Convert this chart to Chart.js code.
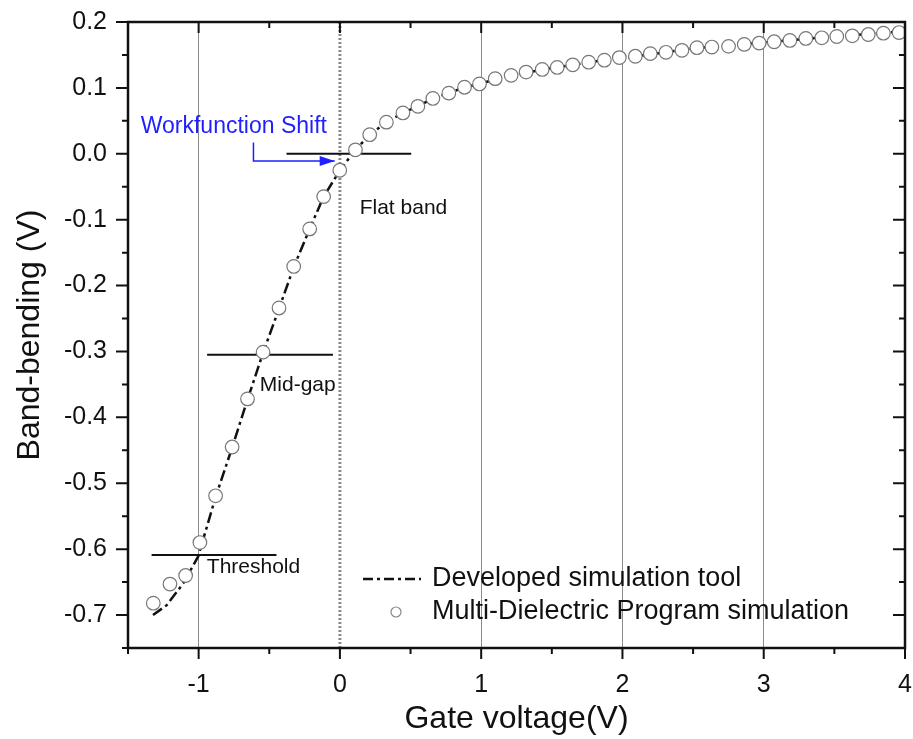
<!DOCTYPE html>
<html>
<head>
<meta charset="utf-8">
<script src="https://cdn.jsdelivr.net/npm/chart.js@4.4.1/dist/chart.umd.min.js"></script>
<style>
  html, body { margin: 0; padding: 0; background: #fff; }
  canvas { display: block; }
</style>
</head>
<body>
<canvas id="bandChart" width="913" height="739"></canvas>
<script>
// Multi-Dielectric Program simulation (open circles)
var mdpVoltage = [-1.321, -1.203, -1.092, -0.991, -0.880, -0.763, -0.654, -0.544, -0.431, -0.327,
  -0.214, -0.115, -0.001, 0.110, 0.211, 0.329, 0.446, 0.552, 0.658, 0.771,
  0.882, 0.988, 1.099, 1.212, 1.318, 1.432, 1.538, 1.648, 1.761, 1.872,
  1.978, 2.091, 2.197, 2.308, 2.421, 2.527, 2.633, 2.751, 2.862, 2.968,
  3.074, 3.185, 3.298, 3.411, 3.517, 3.627, 3.740, 3.847, 3.958];
var mdpBending = [-0.682, -0.653, -0.640, -0.590, -0.519, -0.445, -0.372, -0.301, -0.234, -0.171,
  -0.114, -0.065, -0.025, 0.006, 0.029, 0.048, 0.062, 0.072, 0.084, 0.092,
  0.101, 0.106, 0.114, 0.119, 0.124, 0.128, 0.131, 0.135, 0.139, 0.142,
  0.146, 0.148, 0.152, 0.154, 0.157, 0.161, 0.162, 0.163, 0.166, 0.168,
  0.170, 0.172, 0.175, 0.176, 0.178, 0.179, 0.181, 0.183, 0.184];

// Developed simulation tool (dash-dot curve)
var toolVoltage = [-1.323, -1.226, -1.109, -1.003, -0.880, -0.763, -0.654, -0.544, -0.431, -0.327,
  -0.214, -0.115, 0.0, 0.110, 0.211, 0.329, 0.446, 0.552, 0.658, 0.771,
  0.882, 0.988, 1.2, 1.5, 1.8, 2.1, 2.5, 3.0, 3.5, 4.0];
var toolBending = [-0.700, -0.685, -0.652, -0.611, -0.521, -0.446, -0.373, -0.302, -0.235, -0.172,
  -0.114, -0.065, -0.025, 0.006, 0.029, 0.048, 0.062, 0.072, 0.084, 0.092,
  0.101, 0.106, 0.119, 0.130, 0.140, 0.148, 0.160, 0.169, 0.178, 0.186];

var seriesNames = ["Developed simulation tool", "Multi-Dielectric Program simulation"];

// reference levels: flat band, mid-gap, threshold
var refNames = ["Flat band", "Mid-gap", "Threshold"];
var refLevel = [0.0, -0.305, -0.609];
var refFrom = [-0.378, -0.940, -1.333];
var refTo = [0.505, -0.049, -0.449];
var refLabelX = [0.14, -0.567, -0.942];
var refLabelY = [-0.083, -0.351, -0.628];

// workfunction shift note + arrow path (V, V)
var shiftText = "Workfunction Shift";
var shiftTextAt = [-1.410, 0.041];
var shiftArrowX = [-0.612, -0.612, -0.037];
var shiftArrowY = [0.017, -0.011, -0.011];

var xGridAt = [-1, 1, 2, 3];
var flatBandVoltage = 0;

var FONT = "'Liberation Sans', Arial, sans-serif";

function pairs(xs, ys) {
  var out = [];
  for (var i = 0; i < xs.length; i++) out.push({ x: xs[i], y: ys[i] });
  return out;
}

function isMultiple(v, step) {
  var r = v / step;
  return Math.abs(r - Math.round(r)) < 1e-6;
}

var decorPlugin = {
  id: "decor",
  beforeDatasetsDraw: function (chart) {
    var ctx = chart.ctx, xs = chart.scales.x, ys = chart.scales.y, a = chart.chartArea;
    ctx.save();
    // dotted vertical line at flat-band voltage
    var px = xs.getPixelForValue(flatBandVoltage);
    ctx.strokeStyle = "#8a8a8a";
    ctx.lineWidth = 3;
    ctx.setLineDash([2, 2]);
    ctx.beginPath();
    ctx.moveTo(px, a.top);
    ctx.lineTo(px, a.bottom);
    ctx.stroke();
    ctx.setLineDash([]);
    // horizontal reference lines
    ctx.strokeStyle = "#111";
    ctx.lineWidth = 2;
    for (var i = 0; i < refLevel.length; i++) {
      var y = ys.getPixelForValue(refLevel[i]);
      ctx.beginPath();
      ctx.moveTo(xs.getPixelForValue(refFrom[i]), y);
      ctx.lineTo(xs.getPixelForValue(refTo[i]), y);
      ctx.stroke();
    }
    ctx.restore();
  },
  afterDraw: function (chart) {
    var ctx = chart.ctx, xs = chart.scales.x, ys = chart.scales.y, a = chart.chartArea;
    ctx.save();
    // frame
    ctx.strokeStyle = "#111";
    ctx.lineWidth = 2.5;
    ctx.strokeRect(a.left, a.top, a.right - a.left, a.bottom - a.top);

    // tick marks
    ctx.lineWidth = 2;
    ctx.beginPath();
    xs.ticks.forEach(function (t) {
      var p = xs.getPixelForValue(t.value);
      var len = isMultiple(t.value, 1) ? 11 : 6;
      ctx.moveTo(p, a.bottom); ctx.lineTo(p, a.bottom + len);
      ctx.moveTo(p, a.top); ctx.lineTo(p, a.top + len);
    });
    ys.ticks.forEach(function (t) {
      var p = ys.getPixelForValue(t.value);
      var len = isMultiple(t.value, 0.1) ? 12 : 6;
      ctx.moveTo(a.left, p); ctx.lineTo(a.left - len, p);
      ctx.moveTo(a.right, p); ctx.lineTo(a.right - len, p);
    });
    ctx.stroke();

    // reference labels
    ctx.fillStyle = "#111";
    ctx.font = "21px " + FONT;
    ctx.textBaseline = "middle";
    ctx.textAlign = "left";
    for (var i = 0; i < refNames.length; i++) {
      ctx.fillText(refNames[i], xs.getPixelForValue(refLabelX[i]), ys.getPixelForValue(refLabelY[i]));
    }

    // workfunction shift
    ctx.fillStyle = "#1f1fff";
    ctx.strokeStyle = "#1f1fff";
    ctx.font = "23px " + FONT;
    ctx.fillText(shiftText, xs.getPixelForValue(shiftTextAt[0]), ys.getPixelForValue(shiftTextAt[1]));
    ctx.lineWidth = 1.5;
    ctx.beginPath();
    for (var k = 0; k < shiftArrowX.length; k++) {
      var ax = xs.getPixelForValue(shiftArrowX[k]), ay = ys.getPixelForValue(shiftArrowY[k]);
      if (k === 0) ctx.moveTo(ax, ay); else ctx.lineTo(ax, ay);
    }
    ctx.stroke();
    var tipX = xs.getPixelForValue(shiftArrowX[shiftArrowX.length - 1]);
    var tipY = ys.getPixelForValue(shiftArrowY[shiftArrowY.length - 1]);
    ctx.beginPath();
    ctx.moveTo(tipX, tipY);
    ctx.lineTo(tipX - 15, tipY - 5);
    ctx.lineTo(tipX - 15, tipY + 5);
    ctx.closePath();
    ctx.fill();

    // legend
    var lx = a.left + 235, ly1 = a.top + 557, ly2 = a.top + 590;
    ctx.strokeStyle = "#111";
    ctx.lineWidth = 2.5;
    ctx.setLineDash([10, 4, 3, 4]);
    ctx.beginPath();
    ctx.moveTo(lx, ly1); ctx.lineTo(lx + 58, ly1);
    ctx.stroke();
    ctx.setLineDash([]);
    ctx.strokeStyle = "#888";
    ctx.lineWidth = 1.2;
    ctx.beginPath();
    ctx.arc(lx + 33, ly2, 5, 0, Math.PI * 2);
    ctx.stroke();
    ctx.fillStyle = "#111";
    ctx.font = "27px " + FONT;
    ctx.fillText(seriesNames[0], lx + 69, ly1);
    ctx.fillText(seriesNames[1], lx + 69, ly2);
    ctx.restore();
  }
};

var ctx = document.getElementById("bandChart").getContext("2d");

var chart = new Chart(ctx, {
  type: "scatter",
  data: {
    datasets: [
      {
        label: seriesNames[1],
        data: pairs(mdpVoltage, mdpBending),
        pointStyle: "circle",
        pointRadius: 6.8,
        pointBorderWidth: 1.2,
        pointBorderColor: "#777",
        pointBackgroundColor: "#ffffff",
        showLine: false,
        order: 0
      },
      {
        label: seriesNames[0],
        type: "line",
        data: pairs(toolVoltage, toolBending),
        borderColor: "#111",
        borderWidth: 2.5,
        borderDash: [11, 4, 3, 4],
        pointRadius: 0,
        pointHoverRadius: 0,
        fill: false,
        tension: 0,
        order: 1
      }
    ]
  },
  options: {
    responsive: false,
    animation: false,
    layout: { padding: { top: 22, right: 7, left: 0, bottom: 0 } },
    plugins: {
      legend: { display: false },
      tooltip: { enabled: false }
    },
    scales: {
      x: {
        type: "linear",
        min: -1.5,
        max: 4,
        afterFit: function (scale) {
          scale.height = 91;
          scale.paddingLeft = 0;
          scale.paddingRight = 0;
        },
        ticks: {
          stepSize: 0.5,
          autoSkip: false,
          maxRotation: 0,
          padding: 22,
          color: "#111",
          font: { family: FONT, size: 25 },
          callback: function (v) { return isMultiple(v, 1) ? String(Math.round(v)) : ""; }
        },
        grid: {
          drawTicks: false,
          lineWidth: 1,
          color: function (c) {
            var v = c.tick ? c.tick.value : null;
            return (v !== null && xGridAt.indexOf(Math.round(v * 1000) / 1000) >= 0) ? "rgba(0,0,0,0.45)" : "rgba(0,0,0,0)";
          }
        },
        border: { display: false },
        title: {
          display: true,
          text: "Gate voltage(V)",
          color: "#111",
          font: { family: FONT, size: 32 },
          padding: { top: 0, bottom: 1 }
        }
      },
      y: {
        type: "linear",
        min: -0.75,
        max: 0.2,
        afterFit: function (scale) {
          scale.width = 128;
          scale.paddingTop = 0;
          scale.paddingBottom = 0;
        },
        ticks: {
          stepSize: 0.05,
          autoSkip: false,
          padding: 21,
          color: "#111",
          font: { family: FONT, size: 25 },
          callback: function (v) { return isMultiple(v, 0.1) ? (Math.round(v * 10) / 10).toFixed(1) : ""; }
        },
        grid: { display: false, drawTicks: false },
        border: { display: false },
        title: {
          display: true,
          text: "Band-bending (V)",
          color: "#111",
          font: { family: FONT, size: 32 },
          padding: { top: 11, bottom: 0 }
        }
      }
    }
  },
  plugins: [decorPlugin]
});
</script>
</body>
</html>
